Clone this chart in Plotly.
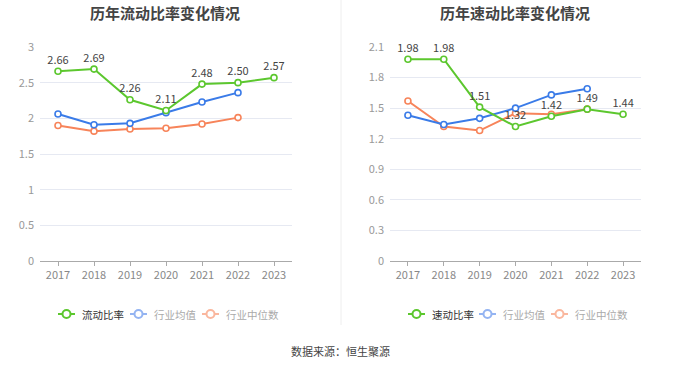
import plotly.graph_objects as go

years = ["2017", "2018", "2019", "2020", "2021", "2022", "2023"]

current_ratio = [2.66, 2.69, 2.26, 2.11, 2.48, 2.50, 2.57]
current_ind_mean = [2.06, 1.91, 1.93, 2.08, 2.23, 2.36, None]
current_ind_median = [1.90, 1.82, 1.85, 1.86, 1.92, 2.01, None]

quick_ratio = [1.98, 1.98, 1.51, 1.32, 1.42, 1.49, 1.44]
quick_ind_mean = [1.43, 1.34, 1.40, 1.50, 1.63, 1.69, None]
quick_ind_median = [1.57, 1.32, 1.28, 1.45, 1.44, 1.49, None]

left_ticks = [0, 0.5, 1, 1.5, 2, 2.5, 3]
right_ticks = [0, 0.3, 0.6, 0.9, 1.2, 1.5, 1.8, 2.1]

left_legend = ["流动比率", "行业均值", "行业中位数"]
right_legend = ["速动比率", "行业均值", "行业中位数"]

GREEN = "#5cc72e"
BLUE = "#3a7be8"
ORANGE = "#f7845a"
LEG_SYM = ["#5cc72e", "#94b4f2", "#fab79e"]
LEG_TXT = ["#333333", "#aaaaaa", "#aaaaaa"]

W, H = 680, 367
fig = go.Figure()


def add_series(y, color, xa, ya, label=False):
    fig.add_trace(go.Scatter(
        x=years, y=y, xaxis=xa, yaxis=ya,
        mode="lines+markers+text" if label else "lines+markers",
        text=[f"{v:.2f}" for v in y] if label else None,
        textposition="top center",
        textfont=dict(size=11, color="#444"),
        line=dict(color=color, width=2),
        marker=dict(symbol="circle", size=6, color="white", line=dict(width=1.6, color=color)),
        showlegend=False, cliponaxis=False, hoverinfo="skip",
    ))


add_series(current_ind_median, ORANGE, "x", "y")
add_series(current_ind_mean, BLUE, "x", "y")
add_series(current_ratio, GREEN, "x", "y", label=True)
add_series(quick_ind_median, ORANGE, "x2", "y2")
add_series(quick_ind_mean, BLUE, "x2", "y2")
add_series(quick_ratio, GREEN, "x2", "y2", label=True)

ytop = 1 - 47 / H
ybot = 1 - 261 / H

axis_common = dict(
    type="category", range=[-0.5, 6.5], showgrid=False, zeroline=False,
    showline=True, linecolor="#aaaaaa", linewidth=1,
    ticks="outside", ticklen=4, tickcolor="#aaaaaa",
    tickfont=dict(size=11, color="#888"), fixedrange=True,
)
yaxis_common = dict(
    showgrid=True, gridcolor="#e6e9f2", gridwidth=1, zeroline=False, showline=False,
    tickfont=dict(size=11, color="#999"), ticks="", fixedrange=True, ticklabelstandoff=5,
)

shapes = [dict(type="line", xref="paper", yref="paper", x0=341 / W, x1=341 / W,
               y0=1 - 325 / H, y1=1, line=dict(color="#eeeeee", width=1))]
annotations = [
    dict(text="<b>历年流动比率变化情况</b>", x=165 / W, y=1 - 12 / H, xref="paper", yref="paper",
         showarrow=False, font=dict(size=15, color="#444"), xanchor="center", yanchor="middle"),
    dict(text="<b>历年速动比率变化情况</b>", x=515 / W, y=1 - 12 / H, xref="paper", yref="paper",
         showarrow=False, font=dict(size=15, color="#444"), xanchor="center", yanchor="middle"),
    dict(text="数据来源：恒生聚源", x=340 / W, y=1 - 351 / H, xref="paper", yref="paper",
         showarrow=False, font=dict(size=11, color="#444"), xanchor="center", yanchor="middle"),
]

# legend (drawn manually for compact layout)
LEG_Y = 314
legend_starts = {"left": [58, 130, 202], "right": [408, 479, 551]}
for side, names in (("left", left_legend), ("right", right_legend)):
    for i, name in enumerate(names):
        x0 = legend_starts[side][i]
        yc = 1 - LEG_Y / H
        shapes.append(dict(type="line", xref="paper", yref="paper", x0=x0 / W, x1=(x0 + 17) / W,
                           y0=yc, y1=yc, line=dict(color=LEG_SYM[i], width=2)))
        r = 4
        shapes.append(dict(type="circle", xref="paper", yref="paper",
                           x0=(x0 + 8.5 - r) / W, x1=(x0 + 8.5 + r) / W,
                           y0=yc - r / H, y1=yc + r / H,
                           line=dict(color=LEG_SYM[i], width=2), fillcolor="white"))
        annotations.append(dict(text=name, x=(x0 + 22) / W, y=yc, xref="paper", yref="paper",
                                showarrow=False, xanchor="left", yanchor="middle",
                                font=dict(size=10.5, color=LEG_TXT[i])))

fig.update_layout(
    width=W, height=H,
    margin=dict(l=0, r=0, t=0, b=0, autoexpand=False),
    paper_bgcolor="white", plot_bgcolor="white",
    font=dict(family="Noto Sans CJK SC, sans-serif"),
    showlegend=False,
    xaxis=dict(domain=[40 / W, 292 / W], anchor="y", **axis_common),
    yaxis=dict(domain=[ybot, ytop], anchor="x", range=[0, 3], tickvals=left_ticks,
               ticktext=[f"{v:g}" for v in left_ticks], **yaxis_common),
    xaxis2=dict(domain=[390 / W, 641 / W], anchor="y2", **axis_common),
    yaxis2=dict(domain=[ybot, ytop], anchor="x2", range=[0, 2.1], tickvals=right_ticks,
                ticktext=[f"{v:g}" for v in right_ticks], **yaxis_common),
    shapes=shapes,
    annotations=annotations,
)

fig.write_html(
    "out.html",
    config={"displayModeBar": False},
    post_script="document.body.style.margin='0';document.body.style.overflow='hidden';",
)
